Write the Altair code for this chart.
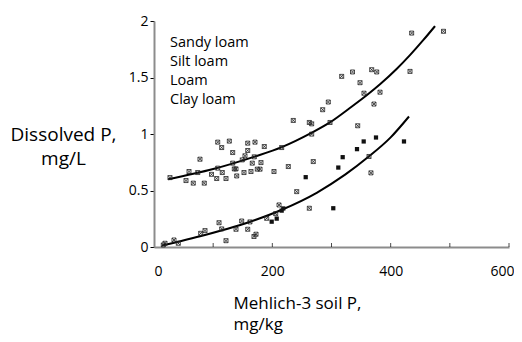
import altair as alt
import pandas as pd

FONT = "Open Sans"

# Scatter points: Mehlich-3 soil P (mg/kg), dissolved P (mg/L), marker kind
soil_p = [27.0, 54.1, 59.2, 66.4, 73.9, 77.7, 85.0, 97.2, 106.0, 107.7,
          107.7, 114.4, 115.4, 121.7, 127.3, 133.0, 133.0, 135.7, 138.6, 139.8,
          149.2, 152.1, 153.8, 158.4, 158.4, 163.9, 166.1, 169.5, 170.7, 174.6,
          179.2, 180.8, 186.4, 202.8, 215.8, 227.0, 235.4, 256.4, 262.5, 266.5,
          266.5, 269.2, 285.1, 294.6, 297.5, 311.5, 318.9, 317.2, 335.5, 348.2,
          354.9, 367.9, 376.4, 371.8, 382.0, 344.3, 354.4, 375.2, 422.5, 343.1,
          363.4, 366.7, 432.7, 435.5, 489.3, 241.2, 262.5, 303.0,
          15.7, 18.6, 33.8, 41.1, 78.9, 86.2, 109.9, 114.4, 121.7, 138.6,
          148.2, 158.4, 162.2, 169.0, 172.4, 190.5, 198.9, 207.4, 205.7, 211.3,
          215.8, 218.5]
dissolved_p = [0.614, 0.588, 0.668, 0.565, 0.659, 0.777, 0.565, 0.643, 0.606, 0.698,
               0.928, 0.880, 0.659, 0.606, 0.937, 0.836, 0.742, 0.691, 0.691, 0.629,
               0.771, 0.659, 0.807, 0.919, 0.854, 0.668, 0.742, 0.798, 0.928, 0.689,
               0.689, 0.747, 0.889, 0.668, 0.880, 0.712, 1.120, 0.618, 1.102, 1.090,
               0.999, 0.756, 1.215, 1.283, 1.102, 0.703, 0.795, 1.510, 1.549, 1.454,
               1.361, 1.569, 1.549, 1.265, 1.370, 1.073, 0.934, 0.969, 0.934, 0.866,
               0.801, 0.656, 1.554, 1.893, 1.909, 0.490, 0.343, 0.343,
               0.018, 0.033, 0.062, 0.033, 0.121, 0.145, 0.215, 0.160, 0.056, 0.157,
               0.230, 0.157, 0.222, 0.093, 0.113, 0.254, 0.224, 0.251, 0.295, 0.372,
               0.322, 0.341]
marker = ["x", "x", "x", "x", "x", "x", "x", "x", "x", "x",
          "x", "x", "x", "x", "x", "x", "x", "x", "x", "x",
          "x", "x", "x", "x", "x", "x", "x", "x", "x", "x",
          "x", "x", "x", "x", "x", "x", "x", "s", "x", "x",
          "x", "x", "x", "x", "x", "s", "s", "x", "x", "x",
          "x", "x", "x", "x", "x", "x", "s", "s", "s", "s",
          "x", "x", "x", "x", "x", "x", "x", "s",
          "x", "x", "x", "x", "x", "x", "x", "x", "x", "x",
          "x", "x", "x", "x", "x", "x", "s", "s", "x", "x",
          "s", "s"]

# Fitted trend curves
curve_hi_x = [24, 100, 170, 216, 266, 298, 331, 360, 382, 410, 433, 455, 475]
curve_hi_y = [0.60, 0.69, 0.80, 0.884, 1.01, 1.105, 1.23, 1.345, 1.44, 1.575, 1.70, 1.83, 1.955]
curve_lo_x = [13, 86, 171, 216, 275, 323, 363, 400, 431]
curve_lo_y = [0.012, 0.106, 0.239, 0.33, 0.48, 0.64, 0.80, 0.97, 1.155]

legend_labels = ["Sandy loam", "Silt loam", "Loam", "Clay loam"]

x_tick_values = [100, 200, 300, 400, 500, 600]
x_label_values = [0, 200, 400, 600]
y_tick_values = [0, 0.25, 0.5, 0.75, 1, 1.25, 1.5, 1.75, 2]

pts = pd.DataFrame({"x": soil_p, "y": dissolved_p, "m": marker})
curves = pd.DataFrame({
    "x": curve_hi_x + curve_lo_x,
    "y": curve_hi_y + curve_lo_y,
    "c": ["hi"] * len(curve_hi_x) + ["lo"] * len(curve_lo_x),
})
ticks_df = pd.DataFrame({"x": x_tick_values})
legend_df = pd.DataFrame({"label": legend_labels, "row": list(range(len(legend_labels)))})

xscale = alt.Scale(domain=[0, 600], nice=False, zero=False)
yscale = alt.Scale(domain=[0, 2], nice=False)

xaxis = alt.Axis(
    values=x_label_values, ticks=False, grid=False,
    domainColor="#8c8c8c", domainWidth=2,
    labelFont=FONT, labelFontSize=14, labelColor="black", labelPadding=17,
    labelAlign={"condition": [{"test": "datum.value === 0", "value": "left"},
                              {"test": "datum.value === 600", "value": "right"}],
                "value": "center"},
    labelOffset={"condition": {"test": "datum.value === 600", "value": 5}, "value": 0},
    title=["Mehlich-3 soil P,", "mg/kg"], titleFont=FONT, titleFontSize=17,
    titleFontWeight="normal", titleColor="black", titleAlign="left",
    titleBaseline="alphabetic", titleX=79, titleY=61, titleLineHeight=21,
)
yaxis = alt.Axis(
    values=y_tick_values, format="~g",
    labelExpr="datum.value % 0.5 === 0 ? datum.label : ''",
    grid=False, tickSize=4, tickColor="black", tickWidth=1,
    domainColor="#8c8c8c", domainWidth=2,
    labelFont=FONT, labelFontSize=14, labelColor="black", labelPadding=2,
    title=["Dissolved P,", "mg/L"], titleFont=FONT, titleFontSize=19,
    titleFontWeight="normal", titleColor="black", titleAngle=0,
    titleAlign="center", titleBaseline="alphabetic",
    titleX=-91, titleY=119, titleLineHeight=24,
)

base = alt.Chart(pts)

crosses = base.transform_filter(alt.datum.m == "x").mark_point(
    shape="M-1,-1L1,1M1,-1L-1,1M-1,-1H1V1H-1Z", size=16, color="#222222",
    strokeWidth=0.8, filled=False, opacity=1,
).encode(
    x=alt.X("x:Q", scale=xscale, axis=xaxis),
    y=alt.Y("y:Q", scale=yscale, axis=yaxis),
)

squares = base.transform_filter(alt.datum.m == "s").mark_square(
    size=18, color="#111111", opacity=1,
).encode(x=alt.X("x:Q", scale=xscale), y=alt.Y("y:Q", scale=yscale))

lines = alt.Chart(curves).mark_line(
    color="black", strokeWidth=2, interpolate="monotone",
).encode(
    x=alt.X("x:Q", scale=xscale), y=alt.Y("y:Q", scale=yscale), detail="c:N",
)

xticks = alt.Chart(ticks_df).mark_tick(
    orient="vertical", size=4, thickness=1, color="black", yOffset=-2,
).encode(x=alt.X("x:Q", scale=xscale), y=alt.datum(0))

legend_text = alt.Chart(legend_df).mark_text(
    align="left", baseline="alphabetic", font=FONT, fontSize=14.5, color="black",
).encode(
    x=alt.value(16),
    y=alt.Y("row:O", scale=alt.Scale(type="point", range=[25.7, 83], padding=0), axis=None),
    text="label:N",
)

data_layers = alt.layer(lines, crosses, squares, xticks)

chart = alt.layer(data_layers, legend_text).resolve_scale(y="independent").properties(
    width=355, height=226,
    autosize=alt.AutoSizeParams(type="none"),
    padding={"left": 146, "top": 13, "right": 5, "bottom": 87},
).configure_view(strokeOpacity=0)

chart.save("out.html", embed_options={"renderer": "svg", "actions": False})
